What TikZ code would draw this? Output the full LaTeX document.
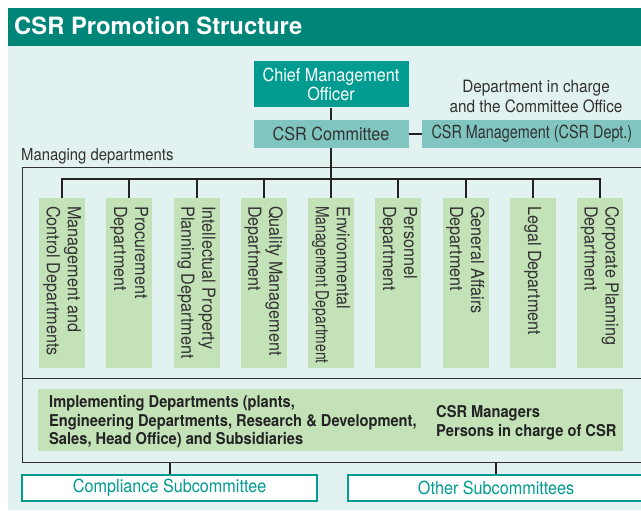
\documentclass[tikz,border=0pt]{standalone}
\usepackage{fontspec}
\setmainfont{TeX Gyre Heros}
\newfontfamily\condfont[FakeStretch=0.9]{TeX Gyre Heros}
\newfontfamily\narrowfont[FakeStretch=0.77]{TeX Gyre Heros}
\newfontfamily\mgmtfont[FakeStretch=0.8]{TeX Gyre Heros}
\usetikzlibrary{positioning}

\definecolor{barteal}{RGB}{0,133,121}
\definecolor{paleteal}{RGB}{226,242,241}
\definecolor{darkteal}{RGB}{0,155,145}
\definecolor{midteal}{RGB}{128,197,192}
\definecolor{deptgreen}{RGB}{196,226,184}
\definecolor{linegray}{RGB}{35,35,35}
\definecolor{textgray}{RGB}{50,50,50}

\tikzset{
  conn/.style={draw=linegray, line width=2pt},
  framebox/.style={draw=textgray, line width=1.1pt, inner sep=0, anchor=north west},
  topbox/.style={minimum width=155, inner sep=0, align=center,
    font=\condfont\fontsize{18}{19}\selectfont},
  deptbox/.style={fill=deptgreen, minimum width=46, minimum height=170, inner sep=0, anchor=north},
  depttext/.style={rotate=-90, anchor=west, align=left, inner sep=0, text=textgray,
    font=\condfont\fontsize{18}{21}\selectfont},
  subbox/.style={draw=darkteal, line width=2.3pt, fill=white, text=darkteal, inner sep=0,
    minimum height=26, font=\condfont\fontsize{18}{20}\selectfont}
}

\begin{document}
\begin{tikzpicture}[x=1pt, y=-1pt]
  \useasboundingbox (0,0) rectangle (641,511);
  \clip (0,0) rectangle (641,511);
  % backdrop and title bar
  \fill[paleteal] (8,46) rectangle (641,510);
  \fill[barteal] (8,8) rectangle (641,46);
  \node[anchor=base west, inner sep=0, text=white, font=\bfseries\fontsize{23.8}{26}\selectfont] (title) at (14,35) {CSR Promotion Structure};

  % top of the structure
  \node[topbox, fill=darkteal, text=white, minimum height=46] (cmo) at (331,84.5) {Chief Management\\Officer};
  \node[topbox, fill=midteal, text=textgray, minimum height=28, below=12pt of cmo] (comm) {CSR Committee};
  \node[topbox, fill=midteal, text=textgray, minimum height=28, minimum width=220, right=13pt of comm,
    font=\mgmtfont\fontsize{18}{19}\selectfont] (mgmt) {CSR Management (CSR Dept.)};
  \node[align=center, inner sep=0, text=textgray, font=\condfont\fontsize{17}{20}\selectfont] (office) at (536,96) {Department in charge\\and the Committee Office};

  % frames
  \node[anchor=base west, inner sep=0, text=textgray, font=\condfont\fontsize{16.5}{18}\selectfont] (mlabel) at (21,160.5) {Managing departments};
  \node[framebox, minimum width=660, minimum height=211] (mframe) at (21.5,167) {};
  \node[framebox, minimum width=660, minimum height=84] (iframe) at (21.5,378) {};

  % managing departments
  \foreach \dept [count=\i] in {
      {Management and\\Control Departments},
      {Procurement\\Department},
      {Intellectual Property\\Planning Department},
      {Quality Management\\Department},
      {Environmental\\{\narrowfont Management Department}},
      {Personnel\\Department},
      {General Affairs\\Department},
      {Legal Department},
      {Corporate Planning\\Department}}
  {
    \node[deptbox] (d\i) at ({62+67.25*(\i-1)},198) {};
    \node[depttext] (t\i) at ([yshift=-8pt]d\i.north) {\dept};
  }
  \coordinate (bus) at ([yshift=19pt]d5.north);
  \draw[conn] (d1.north) |- (bus) -| (d9.north);
  \foreach \i in {2,...,8}
    \draw[conn] (d\i.north) -- (d\i.north |- bus);
  \draw[conn] (cmo) -- (comm);
  \draw[conn] (comm) -- (d5.north);
  \draw[conn] (comm) -- (mgmt);

  % implementing departments
  \node[fill=deptgreen, anchor=north west, minimum width=585, minimum height=62, inner sep=0] (impl) at (38,389) {};
  \node[anchor=north west, align=left, inner sep=0, text=linegray, font=\condfont\bfseries\fontsize{16.3}{18.8}\selectfont] (impltext) at (49,395) {Implementing Departments (plants,\\Engineering Departments, Research \& Development,\\Sales, Head Office) and Subsidiaries};
  \node[anchor=north west, align=left, inner sep=0, text=linegray, font=\condfont\bfseries\fontsize{16.3}{19.5}\selectfont] (mgrtext) at (436,405) {CSR Managers\\Persons in charge of CSR};

  % subcommittees
  \node[subbox, anchor=north west, minimum width=295] (comp) at (21,474) {Compliance Subcommittee};
  \node[subbox, anchor=north west, minimum width=296] (other) at (347,474) {Other Subcommittees};
  \draw[conn] (comp) -- (comp |- iframe.south);
  \draw[conn] (other) -- (other |- iframe.south);
\end{tikzpicture}
\end{document}
